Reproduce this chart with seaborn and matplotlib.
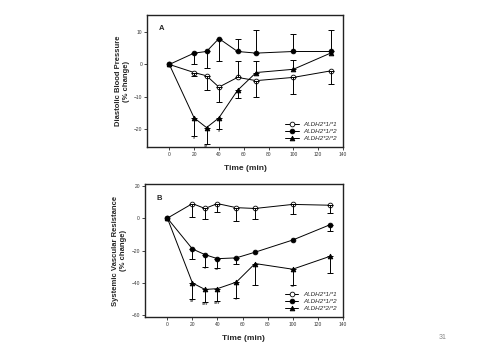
import numpy as np
import pandas as pd
import matplotlib
matplotlib.use("Agg")
import matplotlib.pyplot as plt
import seaborn as sns

sns.set_theme(style="white")
plt.rcParams['font.family'] = ['Liberation Sans', 'DejaVu Sans']

time = [0, 20, 30, 40, 55, 70, 100, 130]
series = ["ALDH2*1/*1", "ALDH2*1/*2", "ALDH2*2/*2"]

# Panel A: diastolic blood pressure (% change)
a_11 = [0, -2.5, -3.5, -7, -4, -5, -4, -2]
a_12 = [0, 3.5, 4, 8, 4, 3.5, 4, 4]
a_22 = [0, -16.5, -19.5, -16.5, -8, -2.5, -1.5, 3.5]
# error bar end points
a_11_err = [0, -3.7, -8, -11.5, 1, -10, -9, -6]
a_12_err = [0, 0, -1, 1.2, 8, 10.5, 9.5, 10.5]
a_22_err = [0, -22, -24.5, -20, -10.5, 1, 1.5, 3.5]
a_stars = {20: (-23, "*"), 30: (-25.3, "**"), 40: (-20.8, "*")}

# Panel B: systemic vascular resistance (% change)
b_11 = [0, 9, 6, 9, 6.5, 6, 8.5, 8]
b_12 = [0, -19, -22.5, -25, -24.5, -21, -13.5, -4]
b_22 = [0, -40, -44, -43.5, -39.5, -28, -31.5, -23.5]
b_11_err = [0, 1, -0.5, 4, -2, -0.5, 2.5, 3]
b_12_err = [0, -25, -30, -31, -28, -21, -13.5, -8]
b_22_err = [0, -50, -52, -51, -49, -41, -41, -34]
b_stars = {20: (-51.5, "**"), 30: (-53.5, "***"), 40: (-52.5, "***"),
           55: (-50.5, "*"), 100: (-42.5, "**")}
b_stars12 = {30: (-31.2, "*"), 40: (-32, "**")}

styles = {
    "ALDH2*1/*1": dict(marker="o", mfc="white"),
    "ALDH2*1/*2": dict(marker="o", mfc="black"),
    "ALDH2*2/*2": dict(marker="^", mfc="black"),
}

fig = plt.figure(figsize=(4.78, 3.59), dpi=100)
fig.patch.set_facecolor("white")

def panel(rect, means, errs, ylim, yticks, ylabel, letter, stars_list):
    ax = fig.add_axes(rect)
    for name, m, e in zip(series, means, errs):
        df = pd.DataFrame({"t": time, "v": m})
        st = styles[name]
        sns.lineplot(data=df, x="t", y="v", ax=ax, color="black", lw=0.7,
                     marker=st["marker"], markersize=3.4, markerfacecolor=st["mfc"],
                     markeredgecolor="black", markeredgewidth=0.6, label=name)
        for t, v, ee in zip(time, m, e):
            if ee != v:
                ax.errorbar([t], [v], yerr=[[max(v - ee, 0)], [max(ee - v, 0)]],
                            fmt="none", ecolor="black", elinewidth=0.7, capsize=2,
                            capthick=0.7)
    for stars in stars_list:
        for t, (y, s) in stars.items():
            ax.text(t, y, s, ha="center", va="center", fontsize=4, color="black")
    ax.set_xlim(-18, 140)
    ax.set_ylim(*ylim)
    ax.set_xticks(range(0, 141, 20))
    ax.set_yticks(yticks)
    ax.tick_params(axis="both", labelsize=3.5, length=2, width=0.6, direction="out",
                   bottom=True, left=True, pad=1.5, labelcolor="#333333")
    for sp in ax.spines.values():
        sp.set_linewidth(1.0)
        sp.set_color("#222222")
    ax.set_xlabel("Time (min)", fontsize=6, fontweight="bold", labelpad=6)
    ax.set_ylabel(ylabel, fontsize=5.5, fontweight="bold", labelpad=3)
    ax.text(0.06, 0.92, letter, transform=ax.transAxes, fontsize=5.5, fontweight="bold",
            ha="left", va="top")
    ax.legend(loc="lower right", frameon=False, handlelength=2.2,
              labelspacing=0.3, borderaxespad=0.5,
              prop={"style": "italic", "size": 4.5})
    return ax

panel([0.3075, 0.5905, 0.41, 0.368], [a_11, a_12, a_22], [a_11_err, a_12_err, a_22_err],
      (-25.5, 15.3), [-20, -10, 0, 10], "Diastolic Blood Pressure\n(% change)", "A", [a_stars])
panel([0.303, 0.117, 0.414, 0.37], [b_11, b_12, b_22], [b_11_err, b_12_err, b_22_err],
      (-61, 21), [-60, -40, -20, 0, 20], "Systemic Vascular Resistance\n(% change)", "B",
      [b_stars, b_stars12])

fig.text(0.925, 0.055, "31", fontsize=5, color="#888888", ha="center")

fig.savefig("out.png", dpi=100, facecolor="white")
